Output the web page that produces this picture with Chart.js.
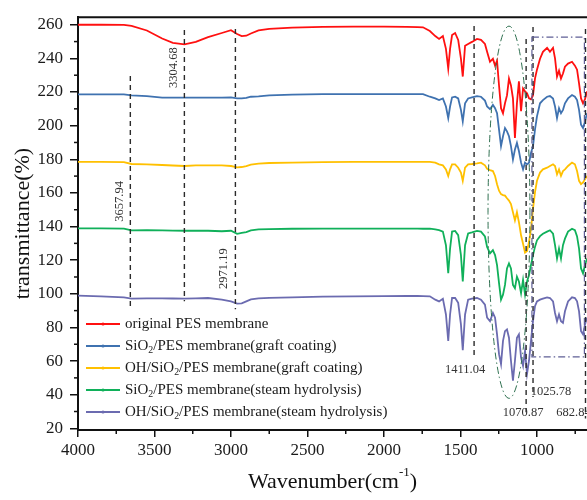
<!DOCTYPE html>
<html>
<head>
<meta charset="utf-8">
<title>FTIR spectra of PES membranes</title>
<script src="https://cdn.jsdelivr.net/npm/chart.js@4.4.1/dist/chart.umd.min.js"></script>
<style>
  html, body { margin: 0; padding: 0; background: #fff; overflow: hidden; }
</style>
</head>
<body>
<canvas id="canvas" width="587" height="500"></canvas>
<script>
const SERIF = '"Liberation Serif", "Times New Roman", serif';

// wavenumber grid (cm-1), shared by all five spectra
const wavenumber = [
    4000, 3850, 3700, 3650, 3550, 3450, 3380, 3304, 3230, 3150, 3060, 3000,
    2960, 2930, 2900, 2870, 2820, 2750, 2600, 2400, 2200, 2000, 1850, 1780,
    1745, 1700, 1665, 1640, 1615, 1595, 1580, 1568, 1555, 1535, 1515, 1497, 1485, 1470, 1450, 1425,
    1392, 1366, 1340, 1326, 1307, 1288, 1274, 1261, 1248, 1235, 1222, 1209, 1196, 1183, 1170, 1157,
    1144, 1131, 1118, 1104, 1091, 1078, 1065, 1052, 1039, 1026, 1013, 1000, 980, 961, 934, 915,
    895, 882, 869, 856, 843, 830, 817, 797, 771, 752, 738, 725, 712, 699, 686, 673
];

// transmittance (%), curves stacked with an offset
const originalPES = [
    260, 260, 259.9, 259.4, 256.6, 251.8, 249.2, 248.4, 249.8, 252.7, 255.1, 256.8,
    254.5, 253.3, 253.5, 254.8, 256.6, 257.6, 258.3, 258.7, 258.9, 258.9, 258.7, 258.6,
    258.5, 256.3, 253.3, 251.6, 253.3, 245.7, 233.9, 245.7, 253.9, 255.1, 251, 239.8, 229.2, 247.5, 248.6, 249.8,
    251.6, 251, 248.6, 243.9, 238, 239.8, 235.7, 238.6, 223.9, 210.4, 207.4, 213.3, 218, 228, 223.9, 216.2,
    192.7, 213.3, 226.3, 208.6, 222.1, 220.4, 219.2, 216.2, 215.7, 218, 228, 233.3, 239.8, 243.9, 246.3, 243.9,
    246.3, 240, 229.2, 232.7, 228, 231, 235.1, 236.9, 238, 235.7, 233.3, 225.1, 216.2, 213.3, 215.7, 220.4
];
const sio2Graft = [
    218.6, 218.6, 218.6, 218, 217.6, 216.7, 216.7, 216.7, 216.7, 216.7, 216.7, 216.8,
    216.2, 216.2, 216.5, 217.2, 217.4, 218, 218.4, 218.7, 218.8, 218.8, 218.8, 218.8,
    218.8, 217.2, 216.2, 215.2, 216.2, 211.4, 204.5, 211.4, 216.8, 217.2, 216.2, 209.4, 202.5, 213.3, 216.2, 216.8,
    217.6, 217.2, 214.9, 211.4, 209.8, 212.3, 210.4, 207.4, 197.6, 187.8, 193.7, 198.6, 196.6, 193.7, 187.8, 179.9,
    185.8, 189.7, 184.9, 178, 174, 178, 177, 178, 183.9, 187.8, 197.6, 205.5, 213.3, 215.2, 217.2, 217.6,
    216.2, 211.4, 204.5, 210.4, 207.4, 209.4, 213.3, 216.2, 218.2, 217.2, 215.2, 209.4, 200.5, 198.6, 202.5, 207.4
];
const ohSio2Graft = [
    178.4, 178.4, 178.3, 177.2, 177, 176.6, 176.3, 176, 176.4, 176.4, 176.4, 176,
    175.2, 175.4, 176, 176.8, 177.4, 177.8, 178, 178.3, 178.4, 178.4, 178.4, 178.4,
    178.4, 178.4, 178, 177, 176.4, 174, 170.1, 174, 177, 177, 175, 172.1, 167.2, 175, 177, 177.2,
    177.6, 178, 176.4, 174.4, 173.6, 173, 170.1, 165.2, 161.3, 159.3, 158.7, 158.4, 156.8, 155.4, 153.4, 148.5,
    143.6, 148.5, 142.6, 134.8, 129.8, 124.5, 125.5, 130.8, 138.7, 150.5, 160.3, 167.2, 172.1, 174, 175, 176,
    177, 176, 171.1, 174, 170.1, 173, 174, 176, 178, 177, 173, 167.2, 165.2, 166.2, 168.1, 170.1
];
const sio2Steam = [
    138.9, 138.9, 138.8, 137.7, 137.9, 137.7, 137.6, 137.5, 137.5, 137.5, 137.2, 137.5,
    135.7, 136.3, 136.7, 137.7, 138.3, 138.5, 138.7, 138.8, 138.8, 138.8, 138.8, 138.8,
    138.7, 138.7, 138.3, 137.8, 137, 128.9, 112.2, 126.9, 137, 137.4, 134.9, 123, 107.3, 128.9, 135.9, 136.5,
    137.4, 137, 134.1, 127.9, 124, 126, 123, 117.1, 106.3, 96.5, 99.5, 105.3, 115.1, 118.1, 115.1, 105.3,
    103.3, 110.2, 107.3, 100.4, 108.3, 99.5, 107.3, 111.2, 117.1, 123, 127.9, 131.8, 134.3, 135.7, 137, 137.8,
    135.7, 128.9, 121, 126.9, 121, 128.9, 132.8, 137, 138.7, 137.8, 134.1, 126.9, 115.1, 112.2, 117.1, 121
];
const ohSio2Steam = [
    98.9, 98.5, 97.9, 97.1, 97.3, 97.3, 97.2, 97.1, 97.3, 97.5, 96.5, 95.5,
    94.2, 94.3, 95.5, 96.7, 97.3, 97.6, 97.9, 98.3, 98.5, 98.6, 98.7, 98.7,
    98.6, 98.5, 96.5, 95.5, 97.1, 87.7, 72, 87.7, 97.5, 97.5, 94.6, 81.8, 66.5, 87.7, 96.5, 97.1,
    97.5, 96.5, 93.6, 85.8, 83.7, 88.6, 85.8, 75.9, 64.1, 58.2, 72, 77.8, 78.8, 73.9, 60.2, 48.4,
    60.2, 73.9, 75.9, 62.1, 57.2, 66.1, 52.4, 60.2, 72, 83.7, 92.6, 95.5, 96.5, 97.1, 97.9, 97.5,
    95.5, 88.6, 83.7, 87.7, 83.7, 82.7, 89.6, 95.5, 97.9, 97.5, 95.5, 89.6, 77.8, 75.9, 81.8, 85.8
];

const seriesLabels = [
    'original PES membrane',
    'SiO2/PES membrane(graft coating)',
    'OH/SiO2/PES membrane(graft coating)',
    'SiO2/PES membrane(steam hydrolysis)',
    'OH/SiO2/PES membrane(steam hydrolysis)'
];
const seriesColors = ['#ff1010', '#3f72b0', '#ffc000', '#10b05a', '#6b6bb0'];

const xTicks = [4000, 3500, 3000, 2500, 2000, 1500, 1000];
const xMinor = [3750, 3250, 2750, 2250, 1750, 1250, 750];
const yTicks = [20, 40, 60, 80, 100, 120, 140, 160, 180, 200, 220, 240, 260];
const yMinor = [30, 50, 70, 90, 110, 130, 150, 170, 190, 210, 230, 250];

// marked peaks and the transmittance span of each dashed marker
const peaks = [3657.94, 3304.68, 2971.19, 1411.04, 1070.87, 1025.78, 682.84];
const peakSpans = [[90.8, 229.5], [95.5, 256.9], [90.8, 257.5], [62, 259.2], [29.5, 251.6], [38.6, 258.6], [25.8, 257.5]];
// label placement: pixel shift from the marker, transmittance of the label centre, vertical text or not
const peakLabelPos = [
    {dx: -11, t: 155, rot: true},
    {dx: -11, t: 234.5, rot: true},
    {dx: -12, t: 115, rot: true},
    {dx: -9, t: 55, rot: false},
    {dx: -3, t: 29, rot: false},
    {dx: 18, t: 42, rot: false},
    {dx: -12, t: 29, rot: false}
];

// highlighted regions
const sulfoneEllipse = {wn: 1183, t: 148.5, dwn: 137, dt: 110.7};
const fingerprintBox = {wnFrom: 1033, wnTo: 690, tFrom: 62.5, tTo: 252.7};

// text with digits after a letter set as subscripts (SiO2)
function drawRich(ctx, text, x, y, size) {
    const parts = text.split(/(?<=[A-Za-z])(\d)/);
    let cx = x;
    parts.forEach((p, i) => {
        if (i % 2 === 1) {
            ctx.font = (size * 0.66) + 'px ' + SERIF;
            ctx.fillText(p, cx, y + size * 0.3);
        } else {
            ctx.font = size + 'px ' + SERIF;
            ctx.fillText(p, cx, y);
        }
        cx += ctx.measureText(p).width;
    });
}

const decorPlugin = {
    id: 'decor',
    afterDatasetsDraw(chart) {
        const {ctx, chartArea, scales: {x, y}} = chart;
        ctx.save();

        // frame line along the top
        ctx.strokeStyle = '#111';
        ctx.lineWidth = 2;
        ctx.beginPath();
        ctx.moveTo(chartArea.left, chartArea.top);
        ctx.lineTo(chartArea.right, chartArea.top);
        ctx.stroke();

        // minor ticks
        ctx.lineWidth = 1.5;
        xMinor.forEach(v => {
            const px = x.getPixelForValue(v);
            ctx.beginPath();
            ctx.moveTo(px, chartArea.bottom);
            ctx.lineTo(px, chartArea.bottom + 4);
            ctx.stroke();
        });
        yMinor.forEach(v => {
            const py = y.getPixelForValue(v);
            ctx.beginPath();
            ctx.moveTo(chartArea.left, py);
            ctx.lineTo(chartArea.left - 4, py);
            ctx.stroke();
        });

        // dashed peak markers
        ctx.strokeStyle = '#2b2b2b';
        ctx.lineWidth = 1.4;
        ctx.setLineDash([5, 4]);
        peaks.forEach((wn, i) => {
            const px = x.getPixelForValue(wn);
            ctx.beginPath();
            ctx.moveTo(px, y.getPixelForValue(peakSpans[i][1]));
            ctx.lineTo(px, y.getPixelForValue(peakSpans[i][0]));
            ctx.stroke();
        });

        // peak labels
        ctx.setLineDash([]);
        ctx.fillStyle = '#333';
        ctx.font = '12.5px ' + SERIF;
        ctx.textAlign = 'center';
        ctx.textBaseline = 'middle';
        peaks.forEach((wn, i) => {
            const pos = peakLabelPos[i];
            const px = x.getPixelForValue(wn) + pos.dx;
            const py = y.getPixelForValue(pos.t);
            ctx.save();
            ctx.translate(px, py);
            if (pos.rot) ctx.rotate(-Math.PI / 2);
            ctx.fillText(wn.toFixed(2), 0, 0);
            ctx.restore();
        });

        // dash-dot ellipse around the S=O / C-O-C bands
        ctx.strokeStyle = '#2f7050';
        ctx.lineWidth = 1;
        ctx.setLineDash([7, 3, 1.5, 3]);
        const ecx = x.getPixelForValue(sulfoneEllipse.wn);
        const ecy = y.getPixelForValue(sulfoneEllipse.t);
        const erx = Math.abs(x.getPixelForValue(sulfoneEllipse.wn - sulfoneEllipse.dwn) - ecx);
        const ery = Math.abs(y.getPixelForValue(sulfoneEllipse.t + sulfoneEllipse.dt) - ecy);
        ctx.beginPath();
        ctx.ellipse(ecx, ecy, erx, ery, 0, 0, 2 * Math.PI);
        ctx.stroke();

        // dash-dot box over the low wavenumber bands
        ctx.strokeStyle = '#5f5f95';
        ctx.lineWidth = 1.2;
        const bx0 = x.getPixelForValue(fingerprintBox.wnFrom);
        const bx1 = x.getPixelForValue(fingerprintBox.wnTo);
        const by0 = y.getPixelForValue(fingerprintBox.tTo);
        const by1 = y.getPixelForValue(fingerprintBox.tFrom);
        ctx.strokeRect(bx0, by0, bx1 - bx0, by1 - by0);
        ctx.setLineDash([]);

        // legend
        ctx.textAlign = 'left';
        ctx.textBaseline = 'middle';
        chart.data.datasets.forEach((ds, i) => {
            const ly = 324 + i * 22;
            const lx = chartArea.left + 8;
            ctx.strokeStyle = ds.borderColor;
            ctx.lineWidth = 2;
            ctx.beginPath();
            ctx.moveTo(lx, ly);
            ctx.lineTo(lx + 34, ly);
            ctx.stroke();
            ctx.fillStyle = ds.borderColor;
            ctx.beginPath();
            ctx.arc(lx + 17, ly, 1.6, 0, 2 * Math.PI);
            ctx.fill();
            ctx.fillStyle = '#1a1a1a';
            drawRich(ctx, ds.label, lx + 39, ly, 15);
        });

        // x axis title with superscript
        const cx = (chartArea.left + chartArea.right) / 2;
        const ty = 482;
        ctx.fillStyle = '#111';
        ctx.font = '22px ' + SERIF;
        const t1 = 'Wavenumber(cm', t3 = ')';
        const w1 = ctx.measureText(t1).width, w3 = ctx.measureText(t3).width;
        ctx.font = '13px ' + SERIF;
        const w2 = ctx.measureText('-1').width;
        let sx = cx - (w1 + w2 + w3) / 2;
        ctx.font = '22px ' + SERIF;
        ctx.fillText(t1, sx, ty);
        sx += w1;
        ctx.font = '13px ' + SERIF;
        ctx.fillText('-1', sx, ty - 9);
        sx += w2;
        ctx.font = '22px ' + SERIF;
        ctx.fillText(t3, sx, ty);

        ctx.restore();
    }
};

const allSeries = [originalPES, sio2Graft, ohSio2Graft, sio2Steam, ohSio2Steam];

const datasets = allSeries.map((vals, i) => ({
    label: seriesLabels[i],
    data: wavenumber.map((w, j) => ({x: w, y: vals[j]})),
    borderColor: seriesColors[i],
    backgroundColor: seriesColors[i],
    borderWidth: 1.8,
    pointRadius: 0,
    tension: 0
}));

const config = {
    type: 'line',
    data: {datasets: datasets},
    options: {
        responsive: false,
        animation: false,
        layout: {padding: {top: 13, right: 0, left: 0, bottom: 0}},
        plugins: {
            legend: {display: false},
            tooltip: {enabled: false}
        },
        scales: {
            x: {
                type: 'linear',
                reverse: true,
                min: 673,
                max: 4000,
                afterBuildTicks: s => { s.ticks = xTicks.map(v => ({value: v})); },
                afterFit: s => { s.height = 70; },
                ticks: {
                    font: {family: SERIF, size: 17},
                    color: '#1a1a1a',
                    padding: 3,
                    maxRotation: 0,
                    autoSkip: false,
                    callback: v => String(v)
                },
                grid: {drawOnChartArea: false, tickLength: 7, color: '#111', lineWidth: 1.5},
                border: {display: true, color: '#111', width: 2}
            },
            y: {
                min: 19,
                max: 264.5,
                afterBuildTicks: s => { s.ticks = yTicks.map(v => ({value: v})); },
                afterFit: s => { s.width = 78; },
                ticks: {
                    font: {family: SERIF, size: 17},
                    color: '#1a1a1a',
                    padding: 7,
                    autoSkip: false,
                    callback: v => String(v)
                },
                grid: {drawOnChartArea: false, tickLength: 8, color: '#111', lineWidth: 1.5},
                border: {display: true, color: '#111', width: 2},
                title: {
                    display: true,
                    text: 'transmittance(%)',
                    font: {family: SERIF, size: 22},
                    color: '#111',
                    padding: {top: 10, bottom: 0}
                }
            }
        }
    },
    plugins: [decorPlugin]
};

const chart = new Chart(document.getElementById('canvas'), config);
</script>
</body>
</html>
